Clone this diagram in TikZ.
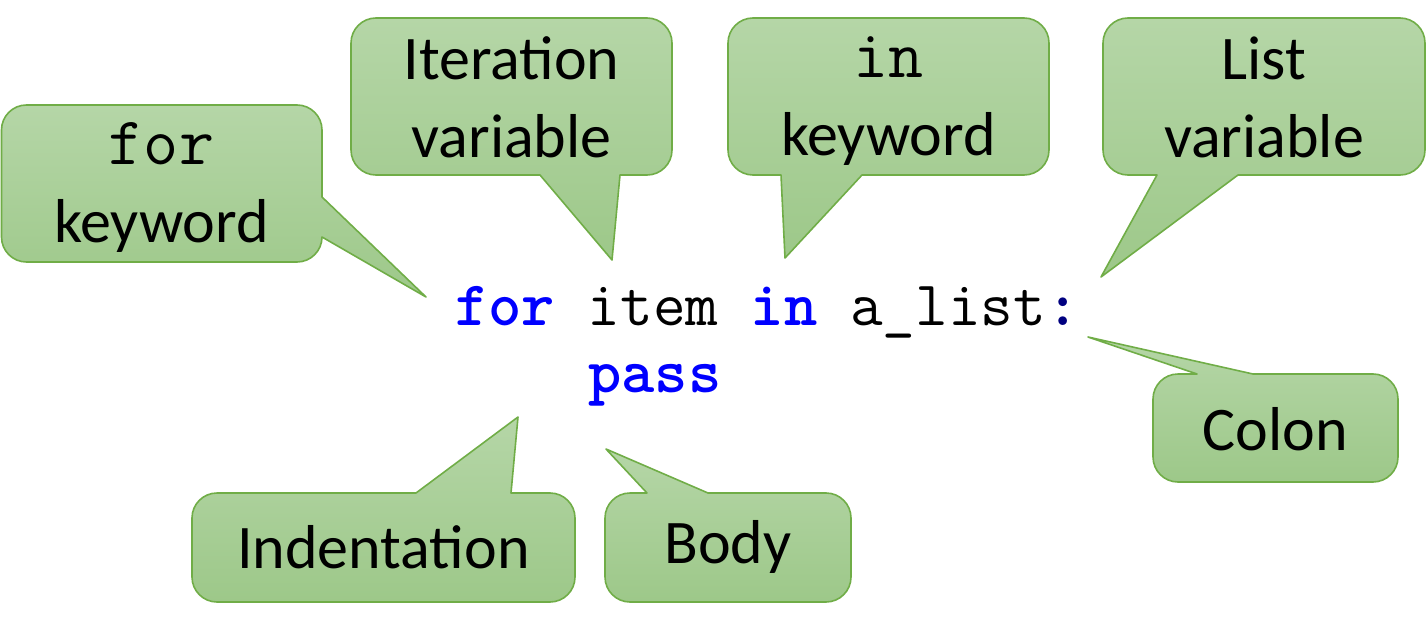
\documentclass[tikz,border=0pt]{standalone}
\usepackage{fontspec}
\setmainfont{Carlito}
\usepackage{xcolor}
\definecolor{kwblue}{RGB}{0,0,255}
\definecolor{colonblue}{RGB}{0,0,128}
\definecolor{calloutedge}{RGB}{112,173,71}
\definecolor{callouttop}{RGB}{181,214,167}
\definecolor{calloutbottom}{RGB}{157,200,137}
\newcommand{\kw}[1]{\textbf{\color{kwblue}#1}}
\newcommand{\mono}[1]{{\ttfamily\fontsize{68}{80}\selectfont #1}}
\begin{document}
\begin{tikzpicture}[x=1pt,y=-1pt,line join=round,
callout/.style={draw=calloutedge,line width=1.6pt,top color=callouttop,bottom color=calloutbottom},
lbl/.style={font=\fontsize{62}{78}\selectfont,align=center,inner sep=0pt},
code/.style={font=\ttfamily\fontsize{63.4}{67}\selectfont,inner sep=0pt,anchor=base west}]
\useasboundingbox (0,0) rectangle (1427,623);
% callouts
\path[callout] (322,197) -- (426,297) -- (322,237) [rounded corners=25pt] -- (322,262) -- (1.5,262) -- (1.5,105) -- (322,105) [sharp corners] -- cycle;
\path[callout] (620,175) -- (612,260) -- (540,175) [rounded corners=25pt] -- (351,175) -- (351,18) -- (672,18) -- (672,175) [sharp corners] -- cycle;
\path[callout] (862,175) -- (785,258) -- (781,175) [rounded corners=25pt] -- (728,175) -- (728,18) -- (1049,18) -- (1049,175) [sharp corners] -- cycle;
\path[callout] (1238,175) -- (1101,277) -- (1157,175) [rounded corners=25pt] -- (1103,175) -- (1103,18) -- (1425,18) -- (1425,175) [sharp corners] -- cycle;
\path[callout] (1197,374) -- (1088,337) -- (1253,374) [rounded corners=25pt] -- (1398,374) -- (1398,482) -- (1153,482) -- (1153,374) [sharp corners] -- cycle;
\path[callout] (416,493) -- (518,417) -- (511,493) [rounded corners=25pt] -- (575,493) -- (575,602) -- (192,602) -- (192,493) [sharp corners] -- cycle;
\path[callout] (647,493) -- (606,449) -- (708,493) [rounded corners=25pt] -- (851,493) -- (851,602) -- (605,602) -- (605,493) [sharp corners] -- cycle;
% labels
\node[lbl] (forkw) at (161.5,188) {\mono{for}\\keyword};
\node[lbl] (itervar) at (511.5,97) {Iteration\\variable};
\node[lbl] (inkw) at (888.5,101) {\mono{in}\\keyword};
\node[lbl] (listvar) at (1264,97) {List\\variable};
\node[lbl] (colon) at (1275.5,429) {Colon};
\node[lbl] (indent) at (383.5,547) {Indentation};
\node[lbl] (body) at (728,547) {Body};
% code
\node[code] (header) at (455,325) {\kw{for} item \kw{in} a\_list\textbf{\color{colonblue}:}};
\node[code] (pass) at (588.2,392) {\kw{pass}};
\end{tikzpicture}
\end{document}
